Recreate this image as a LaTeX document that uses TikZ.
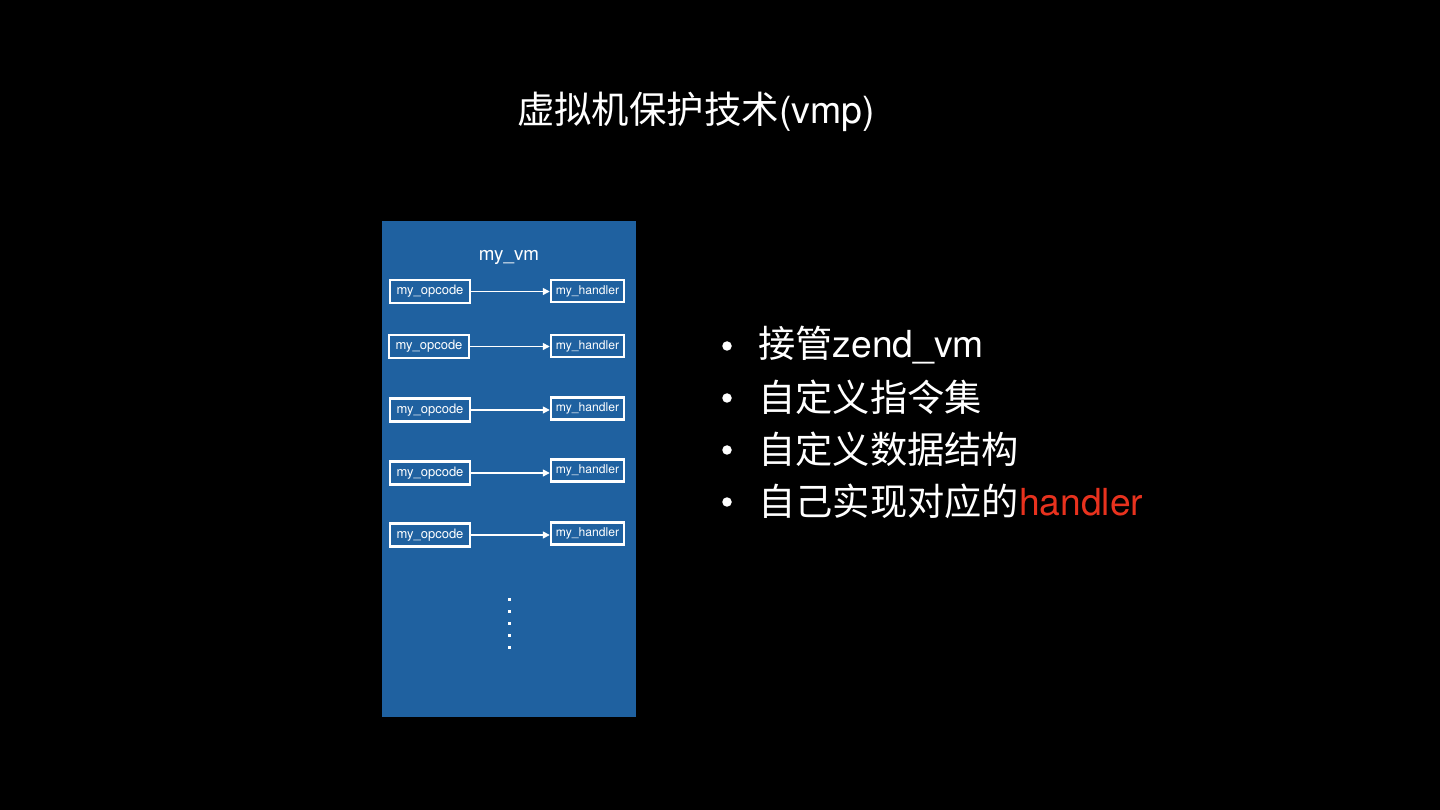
\documentclass[tikz,border=0pt]{standalone}
\usepackage{fontspec}
\setmainfont{TeX Gyre Heros}
\newfontfamily\cjk{Noto Sans CJK SC}
\usetikzlibrary{arrows.meta,positioning}
\definecolor{vmblue}{RGB}{31,97,160}
\definecolor{hlred}{RGB}{232,50,30}
\begin{document}
\begin{tikzpicture}[
  x=0.02cm, y=-0.02cm,
  >={Triangle[length=4pt, width=4pt]},
  opbox/.style={rectangle, draw=white, line width=1.4pt, text=white, inner sep=0pt,
                minimum width=1.6cm, minimum height=0.46cm, font=\fontsize{7.4}{8}\selectfont},
  hbox/.style={rectangle, draw=white, line width=1.4pt, text=white, inner sep=0pt,
               minimum width=1.46cm, minimum height=0.44cm, font=\fontsize{6.9}{8}\selectfont},
  link/.style={->, draw=white, line width=0.8pt},
  item/.style={anchor=west, text=white, inner sep=0pt, font=\fontsize{21.2}{24}\selectfont},
  dot/.style={circle, fill=white, inner sep=0pt, minimum size=0.19cm},
]

% background and frame
\fill[black] (0,0) rectangle (1440,810);
\node[text=white, font=\fontsize{21.3}{24}\selectfont] (title) at (696,112) {{\cjk 虚拟机保护技术}(vmp)};

\fill[vmblue] (382,221) rectangle (636,717);
\node[text=white, font=\fontsize{10.7}{12}\selectfont] (vm) at (509,257) {my\_vm};

% opcode -> handler rows
\node[opbox] (op1) at (430,291.5) {my\_opcode};
\node[opbox] (op2) at (429,346.5) {my\_opcode};
\node[opbox] (op3) at (430,410) {my\_opcode};
\node[opbox] (op4) at (430,473) {my\_opcode};
\node[opbox] (op5) at (430,535) {my\_opcode};

\node[hbox] (h1) at (587.5,291) {my\_handler};
\node[hbox] (h2) at (587.5,346) {my\_handler};
\node[hbox] (h3) at (587.5,408.5) {my\_handler};
\node[hbox] (h4) at (587.5,470.5) {my\_handler};
\node[hbox] (h5) at (587.5,533.5) {my\_handler};

\foreach \i in {1,...,5}
  \draw[link] (op\i.east) -- (op\i.east -| h\i.west);

% more rows
\foreach \k in {0,...,4}
  \fill[white] (507.5,598+12*\k) rectangle (510.5,601+12*\k);

% bullet list
\node[dot] (b1) at (727,346) {};
\node[dot] (b2) at (727,398) {};
\node[dot] (b3) at (727,450) {};
\node[dot] (b4) at (727,502) {};

\node[item] (t1) at (758,345) {{\cjk 接管}zend\_vm};
\node[item] (t2) at (758,397) {\cjk 自定义指令集};
\node[item] (t3) at (758,449) {\cjk 自定义数据结构};
\node[item] (t4) at (758,501) {{\cjk 自己实现对应的}\textcolor{hlred}{handler}};

\end{tikzpicture}
\end{document}
